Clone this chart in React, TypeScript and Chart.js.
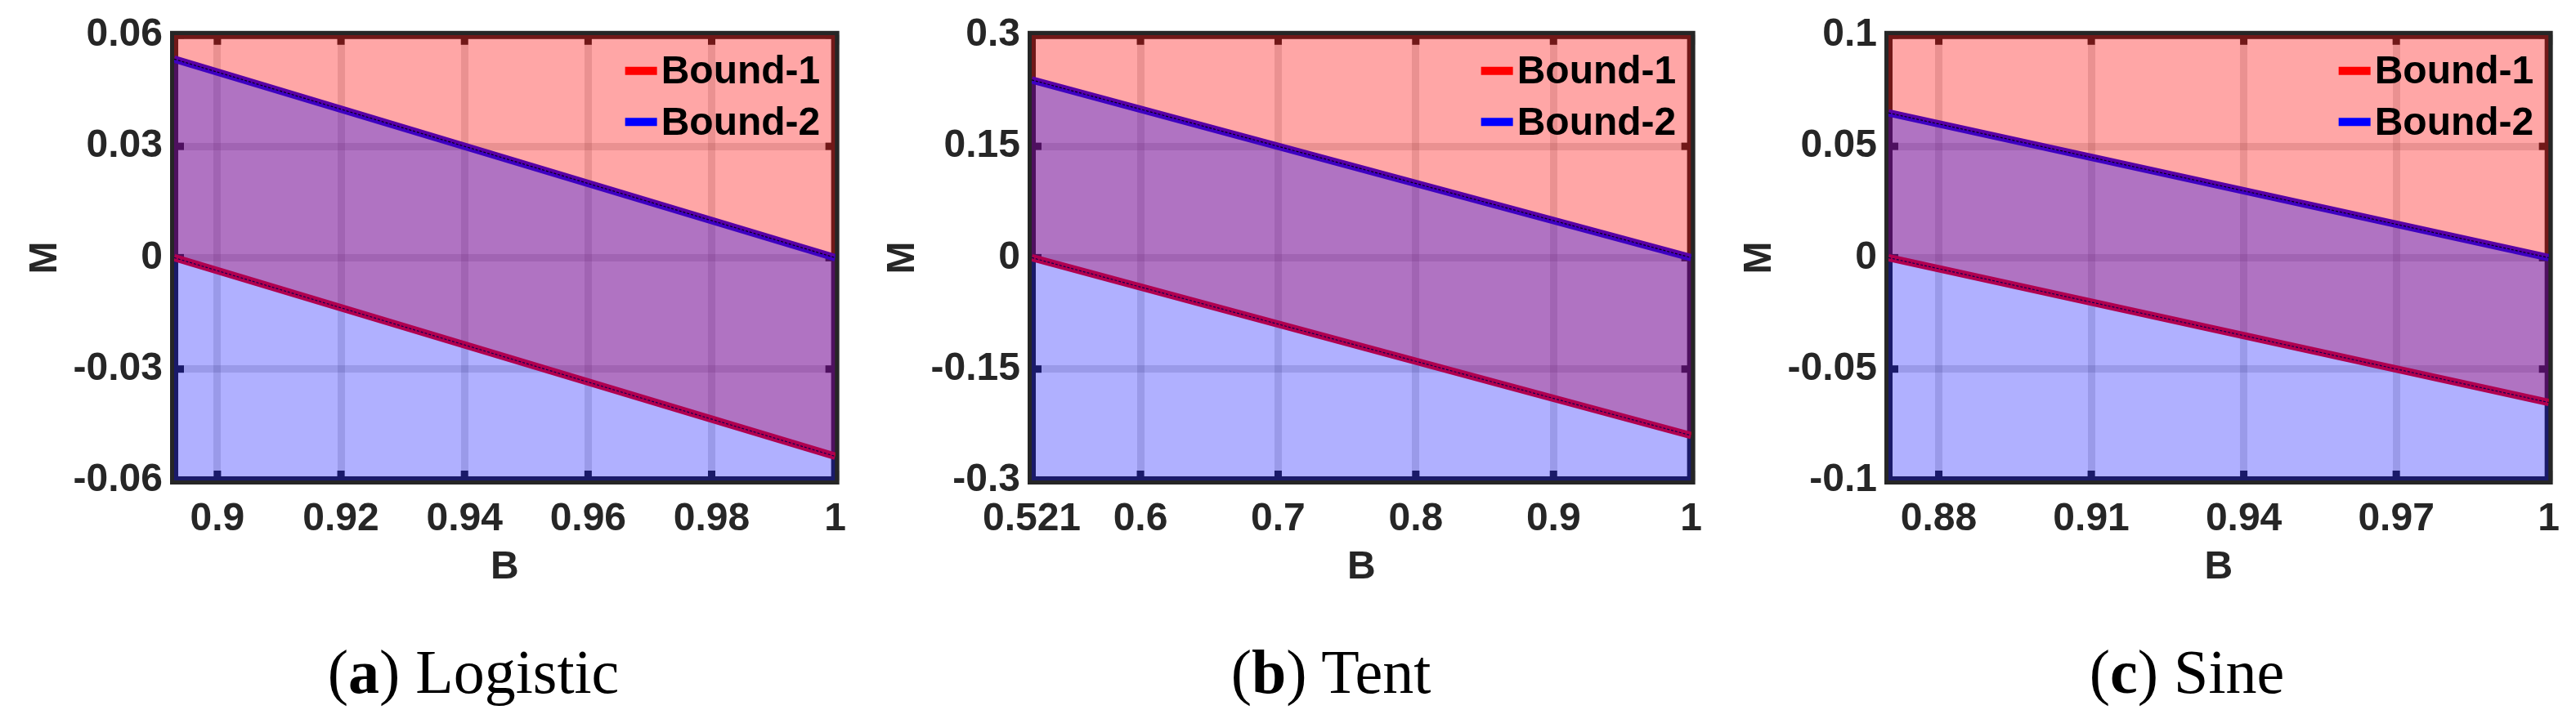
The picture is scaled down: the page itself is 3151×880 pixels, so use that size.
import React, { useEffect, useRef } from 'react';
import { Chart, registerables } from 'chart.js';

Chart.register(...registerables);

// ---------- data ----------
const seriesLabels = ['Bound-1', 'Bound-2'];

const logisticB = [0.893, 1];
const logisticBound1 = [0, -0.0535];
const logisticBound2 = [0.0535, 0];
const logisticXTicks = [0.9, 0.92, 0.94, 0.96, 0.98, 1];
const logisticXTickLabels = ['0.9', '0.92', '0.94', '0.96', '0.98', '1'];
const logisticYTicks = [-0.06, -0.03, 0, 0.03, 0.06];
const logisticYTickLabels = ['-0.06', '-0.03', '0', '0.03', '0.06'];

const tentB = [0.521, 1];
const tentBound1 = [0, -0.2395];
const tentBound2 = [0.2395, 0];
const tentXTicks = [0.521, 0.6, 0.7, 0.8, 0.9, 1];
const tentXTickLabels = ['0.521', '0.6', '0.7', '0.8', '0.9', '1'];
const tentYTicks = [-0.3, -0.15, 0, 0.15, 0.3];
const tentYTickLabels = ['-0.3', '-0.15', '0', '0.15', '0.3'];

const sineB = [0.8701, 1];
const sineBound1 = [0, -0.065];
const sineBound2 = [0.065, 0];
const sineXTicks = [0.88, 0.91, 0.94, 0.97, 1];
const sineXTickLabels = ['0.88', '0.91', '0.94', '0.97', '1'];
const sineYTicks = [-0.1, -0.05, 0, 0.05, 0.1];
const sineYTickLabels = ['-0.1', '-0.05', '0', '0.05', '0.1'];

const captionLetters = ['a', 'b', 'c'];
const captionNames = ['Logistic', 'Tent', 'Sine'];
const xTitle = 'B';
const yTitle = 'M';

// ---------- layout ----------
const CANVAS_H = 740;
const AXIS_LEFT_W = 213;
const PLOT_TOP = 35;
const PLOT_BOTTOM = 588;
const panelLayout = [
  { plotLeft: 213, plotRight: 1028, captionX: 579 },
  { plotLeft: 1262, plotRight: 2075, captionX: 1628 },
  { plotLeft: 2310, plotRight: 3124, captionX: 2675 },
];

const panels = [
  { b: logisticB, b1: logisticBound1, b2: logisticBound2, xt: logisticXTicks, xl: logisticXTickLabels, yt: logisticYTicks, yl: logisticYTickLabels },
  { b: tentB, b1: tentBound1, b2: tentBound2, xt: tentXTicks, xl: tentXTickLabels, yt: tentYTicks, yl: tentYTickLabels },
  { b: sineB, b1: sineBound1, b2: sineBound2, xt: sineXTicks, xl: sineXTickLabels, yt: sineYTicks, yl: sineYTickLabels },
];

const FONT = "'Liberation Sans', Arial, sans-serif";
const AX_COLOR = '#262626';

const framePlugin = {
  id: 'frame',
  beforeDatasetsDraw(chart: any) {
    const { ctx, chartArea: a, scales } = chart;
    const x = scales.x;
    const y = scales.y;
    ctx.save();
    ctx.fillStyle = AX_COLOR;
    for (const t of x.ticks) {
      const px = x.getPixelForValue(t.value);
      ctx.fillRect(px - 4.5, a.top, 9, 12);
      ctx.fillRect(px - 4.5, a.bottom - 12, 9, 12);
    }
    for (const t of y.ticks) {
      const py = y.getPixelForValue(t.value);
      ctx.fillRect(a.left, py - 4.5, 12, 9);
      ctx.fillRect(a.right - 12, py - 4.5, 12, 9);
    }
    ctx.strokeStyle = AX_COLOR;
    ctx.lineWidth = 10;
    ctx.strokeRect(a.left, a.top, a.right - a.left, a.bottom - a.top);
    ctx.restore();
  },
  afterDraw(chart: any) {
    const { ctx, chartArea: a } = chart;
    const items = chart.data.datasets.filter((d: any) => d.inLegend);
    ctx.save();
    items.forEach((d: any, i: number) => {
      const yc = a.top + 44 + i * 62.5;
      ctx.strokeStyle = d.borderColor;
      ctx.lineWidth = 10;
      ctx.beginPath();
      ctx.moveTo(a.right - 257, yc);
      ctx.lineTo(a.right - 218, yc);
      ctx.stroke();
      ctx.fillStyle = '#000';
      ctx.font = `bold 48px ${FONT}`;
      ctx.textAlign = 'left';
      ctx.textBaseline = 'middle';
      ctx.fillText(d.label, a.right - 213, yc + 2);
    });
    ctx.restore();
  },
};

function Panel({ idx }: { idx: number }) {
  const ref = useRef<HTMLCanvasElement>(null);
  const p = panels[idx];
  const L = panelLayout[idx];
  const canvasLeft = L.plotLeft - AXIS_LEFT_W;
  const width = L.plotRight + 26 - canvasLeft;
  const padRight = width - (L.plotRight - canvasLeft);

  useEffect(() => {
    if (!ref.current) return;
    const pts1 = p.b.map((v, i) => ({ x: v, y: p.b1[i] }));
    const pts2 = p.b.map((v, i) => ({ x: v, y: p.b2[i] }));
    const chart = new Chart(ref.current, {
      type: 'line',
      data: {
        datasets: [
          { label: seriesLabels[0], data: pts1, borderColor: '#ff0000', borderWidth: 9, pointRadius: 0, fill: false, order: 4, clip: 0, inLegend: true } as any,
          { label: seriesLabels[1], data: pts2, borderColor: '#0000ff', borderWidth: 9, pointRadius: 0, fill: false, order: 3, clip: 0, inLegend: true } as any,
          { label: 'fill-1', data: pts1, borderColor: 'rgba(0,0,0,0.9)', borderWidth: 1.2, borderDash: [3, 2], backgroundColor: 'rgba(255,0,0,0.35)', pointRadius: 0, fill: 'end', order: 2, clip: 0 } as any,
          { label: 'fill-2', data: pts2, borderColor: 'rgba(0,0,0,0.9)', borderWidth: 1.2, borderDash: [3, 2], backgroundColor: 'rgba(0,0,255,0.31)', pointRadius: 0, fill: 'start', order: 1, clip: 0 } as any,
        ],
      },
      options: {
        animation: false,
        responsive: false,
        maintainAspectRatio: false,
        layout: { padding: { left: 0, top: PLOT_TOP, right: padRight, bottom: 0 } },
        plugins: { legend: { display: false }, tooltip: { enabled: false } },
        scales: {
          x: {
            type: 'linear',
            min: p.b[0],
            max: p.b[p.b.length - 1],
            afterBuildTicks: (axis: any) => { axis.ticks = p.xt.map((v) => ({ value: v })); },
            afterFit: (axis: any) => { axis.height = CANVAS_H - PLOT_BOTTOM; },
            ticks: {
              autoSkip: false,
              maxRotation: 0,
              minRotation: 0,
              padding: 19,
              color: AX_COLOR,
              font: { family: FONT, size: 48, weight: 'bold', lineHeight: 1.2 },
              callback: (_v: any, i: number) => p.xl[i],
            },
            grid: { color: 'rgba(38,38,38,0.15)', lineWidth: 9, drawTicks: false },
            border: { display: false },
            title: {
              display: true,
              text: xTitle,
              color: AX_COLOR,
              font: { family: FONT, size: 48, weight: 'bold', lineHeight: 1.2 },
              padding: { top: 0, bottom: 16 },
            },
          },
          y: {
            type: 'linear',
            min: p.yt[0],
            max: p.yt[p.yt.length - 1],
            afterBuildTicks: (axis: any) => { axis.ticks = p.yt.map((v) => ({ value: v })); },
            afterFit: (axis: any) => { axis.width = AXIS_LEFT_W; },
            ticks: {
              autoSkip: false,
              padding: 14,
              color: AX_COLOR,
              font: { family: FONT, size: 48, weight: 'bold', lineHeight: 1.2 },
              callback: (_v: any, i: number) => p.yl[i],
            },
            grid: { color: 'rgba(38,38,38,0.15)', lineWidth: 9, drawTicks: false },
            border: { display: false },
            title: {
              display: true,
              text: yTitle,
              color: AX_COLOR,
              font: { family: FONT, size: 48, weight: 'bold', lineHeight: 1.2 },
              padding: { top: 27, bottom: 0 },
            },
          },
        },
      } as any,
      plugins: [framePlugin],
    });
    return () => chart.destroy();
  }, []);

  return (
    <>
      <canvas
        ref={ref}
        width={width}
        height={CANVAS_H}
        style={{ position: 'absolute', left: canvasLeft, top: 0, width, height: CANVAS_H, display: 'block' }}
      />
      <div
        style={{
          position: 'absolute',
          left: L.captionX - 300,
          top: 784,
          width: 600,
          textAlign: 'center',
          fontFamily: "'Liberation Serif', 'Times New Roman', serif",
          fontSize: 76,
          lineHeight: 1,
          color: '#000',
          whiteSpace: 'nowrap',
        }}
      >
        (<b>{captionLetters[idx]}</b>) {captionNames[idx]}
      </div>
    </>
  );
}

export default function App() {
  return (
    <div style={{ position: 'absolute', left: 0, top: 0, width: 3151, height: 880, background: '#fff', overflow: 'hidden' }}>
      {panels.map((_, i) => (
        <Panel key={i} idx={i} />
      ))}
    </div>
  );
}
